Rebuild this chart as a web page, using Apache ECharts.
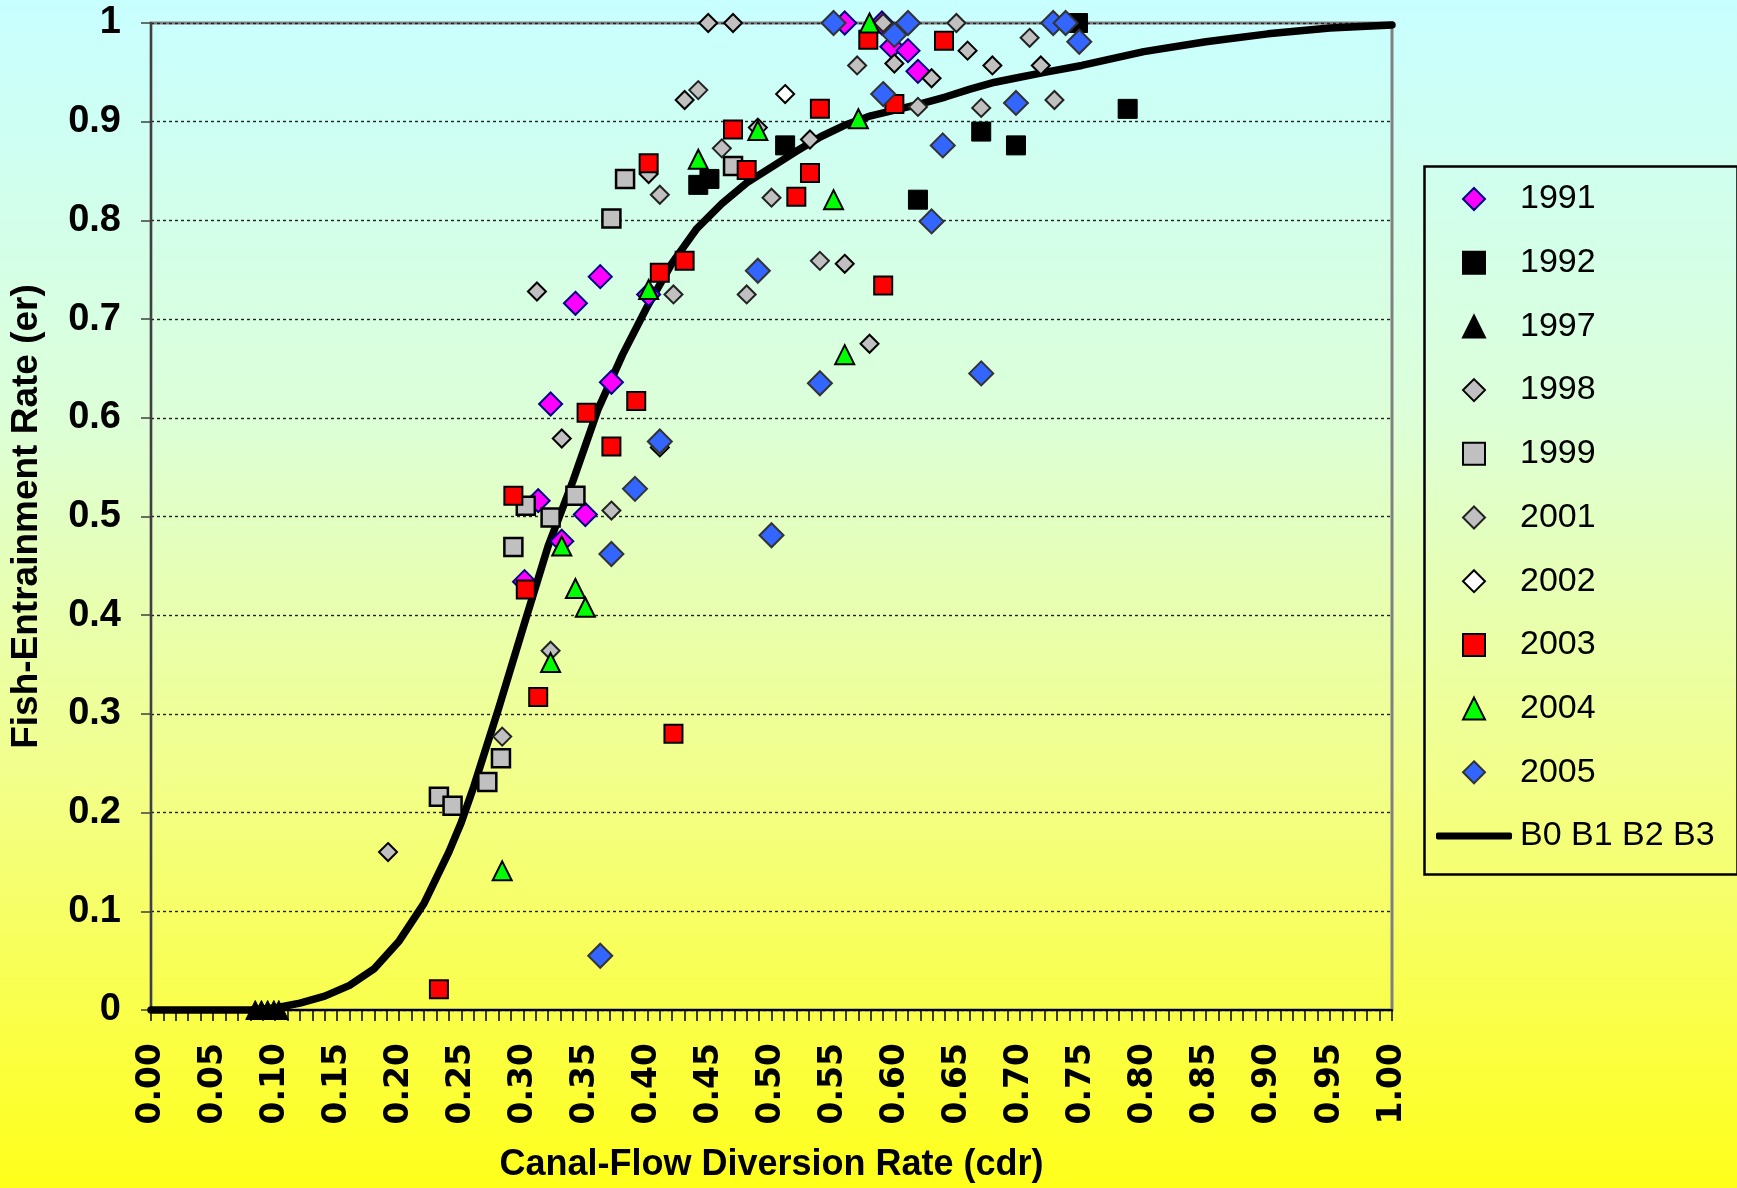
<!DOCTYPE html>
<html>
<head>
<meta charset="utf-8">
<script src="https://cdn.jsdelivr.net/npm/echarts@6/dist/echarts.min.js"></script>
<style>
html,body{margin:0;padding:0;}
#chart{width:1737px;height:1188px;}
</style>
</head>
<body>
<div id="chart"></div>
<script>
// ---- data (x = canal-flow diversion rate, y = fish-entrainment rate) ----
const yearNames = ['1991','1992','1997','1998','1999','2001','2002','2003','2004','2005'];
const fitName = 'B0 B1 B2 B3';

const d1991 = [[0.301,0.434],[0.312,0.516],[0.322,0.614],[0.331,0.475],[0.342,0.716],[0.350,0.502],[0.362,0.743],[0.371,0.636],[0.401,0.725],[0.559,1.0],[0.589,1.0],[0.597,0.976],[0.610,0.972],[0.618,0.951]];
const d1992 = [[0.441,0.836],[0.450,0.842],[0.511,0.876],[0.618,0.821],[0.669,0.890],[0.697,0.876],[0.747,1.0],[0.787,0.913]];
const d1997 = [[0.084,0],[0.089,0],[0.094,0],[0.099,0],[0.103,0]];
const d1998 = [[0.191,0.160],[0.311,0.728],[0.331,0.579],[0.401,0.847],[0.410,0.570],[0.430,0.922],[0.449,1.0],[0.469,1.0],[0.489,0.894],[0.531,0.882],[0.559,0.756],[0.579,0.675],[0.599,0.959],[0.629,0.944],[0.658,0.972],[0.678,0.957],[0.717,0.957]];
const d1999 = [[0.232,0.216],[0.243,0.207],[0.271,0.231],[0.282,0.255],[0.292,0.469],[0.302,0.511],[0.322,0.499],[0.342,0.521],[0.371,0.802],[0.382,0.842],[0.469,0.855]];
const d2001 = [[0.283,0.277],[0.322,0.364],[0.371,0.506],[0.410,0.826],[0.421,0.725],[0.441,0.932],[0.460,0.873],[0.480,0.725],[0.500,0.823],[0.539,0.759],[0.569,0.957],[0.590,1.0],[0.618,0.915],[0.649,1.0],[0.669,0.914],[0.708,0.985],[0.728,0.922]];
const d2002 = [[0.511,0.928]];
const d2003 = [[0.232,0.021],[0.292,0.521],[0.302,0.426],[0.312,0.317],[0.351,0.605],[0.371,0.571],[0.391,0.617],[0.401,0.858],[0.410,0.747],[0.421,0.280],[0.430,0.759],[0.469,0.892],[0.480,0.851],[0.520,0.824],[0.531,0.848],[0.539,0.913],[0.578,0.983],[0.590,0.734],[0.599,0.918],[0.639,0.982]];
const d2004 = [[0.283,0.141],[0.322,0.352],[0.331,0.470],[0.342,0.427],[0.350,0.408],[0.401,0.730],[0.441,0.862],[0.489,0.891],[0.550,0.821],[0.559,0.664],[0.570,0.903],[0.579,1.0]];
const d2005 = [[0.362,0.055],[0.371,0.462],[0.390,0.528],[0.410,0.576],[0.489,0.749],[0.500,0.481],[0.539,0.635],[0.550,1.0],[0.590,0.928],[0.599,0.988],[0.610,1.0],[0.629,0.799],[0.638,0.876],[0.669,0.645],[0.697,0.919],[0.727,1.0],[0.737,1.0],[0.748,0.981]];

const curveX = [0.00,0.02,0.05,0.08,0.10,0.12,0.14,0.16,0.18,0.20,0.22,0.24,0.25,0.26,0.28,0.30,0.32,0.34,0.36,0.38,0.40,0.42,0.44,0.46,0.48,0.50,0.52,0.54,0.56,0.58,0.60,0.62,0.64,0.66,0.68,0.70,0.72,0.75,0.80,0.85,0.90,0.95,1.00];
const curveY = [0,0,0,0,0.002,0.007,0.014,0.025,0.042,0.070,0.108,0.160,0.190,0.226,0.305,0.388,0.470,0.536,0.608,0.664,0.713,0.757,0.792,0.817,0.838,0.854,0.870,0.885,0.897,0.906,0.912,0.918,0.925,0.933,0.940,0.945,0.950,0.957,0.971,0.981,0.989,0.995,0.998];

const yearData = [d1991,d1992,d1997,d1998,d1999,d2001,d2002,d2003,d2004,d2005];

// ---- styles ----
const markerStyles = [
  {symbol:'diamond', size:23, color:'#FF00FF', border:'#000080', bw:2},
  {symbol:'rect', size:19, color:'#000000', border:'#000000', bw:1},
  {symbol:'triangle', size:19, color:'#000000', border:'#000000', bw:1},
  {symbol:'diamond', size:18, color:'#C0C0C0', border:'#000000', bw:2},
  {symbol:'rect', size:18, color:'#C0C0C0', border:'#000000', bw:2.5},
  {symbol:'diamond', size:18, color:'#C0C0C0', border:'#222222', bw:2},
  {symbol:'diamond', size:18, color:'#FFFFFF', border:'#000000', bw:2},
  {symbol:'rect', size:18, color:'#FF0000', border:'#000000', bw:2},
  {symbol:'triangle', size:19, color:'#00FF00', border:'#000000', bw:2},
  {symbol:'diamond', size:24, color:'#3366FF', border:'#333333', bw:2}
];

const series = [];
series.push({
  name: fitName,
  type: 'line',
  data: curveX.map((x,i)=>[x,curveY[i]]),
  symbol: 'none',
  showSymbol: false,
  clip: false,
  z: 1,
  lineStyle: {color:'#000000', width:7.5, cap:'round', join:'round'},
  itemStyle: {color:'#000000'}
});
yearNames.forEach((n,i)=>{
  const m = markerStyles[i];
  series.push({
    name: n,
    type: 'scatter',
    data: yearData[i],
    symbol: m.symbol,
    symbolSize: m.size,
    clip: false,
    z: 2,
    itemStyle: {color:m.color, borderColor:m.border, borderWidth:m.bw, opacity:1}
  });
});

const legendText = {fontFamily:'Liberation Sans', fontSize:34, color:'#000', lineHeight:34};

const chart = echarts.init(document.getElementById('chart'), null, {renderer:'canvas'});
chart.setOption({
  animation: false,
  backgroundColor: {
    type:'linear', x:0, y:0, x2:0, y2:1,
    colorStops:[
      {offset:0, color:'#C8FFFF'},
      {offset:0.35, color:'#DCFFD8'},
      {offset:0.65, color:'#F2FF8C'},
      {offset:1, color:'#FFFF1A'}
    ]
  },
  grid: {left:147, top:23, right:345, bottom:176, show:true, borderColor:'#808080', borderWidth:3, backgroundColor:'transparent'},
  xAxis: {
    type:'value', min:0, max:1, interval:0.05,
    name:'Canal-Flow Diversion Rate (cdr)', nameLocation:'middle', nameGap:137,
    nameTextStyle:{fontFamily:'Liberation Sans', fontWeight:'bold', fontSize:36, color:'#000'},
    axisLine:{show:true, onZero:false, lineStyle:{color:'#000', width:2}},
    axisTick:{show:true, length:11, lineStyle:{color:'#000', width:1.5}},
    minorTick:{show:true, splitNumber:5, length:11, lineStyle:{color:'#000', width:1.5}},
    splitLine:{show:false},
    axisLabel:{rotate:90, margin:33, fontFamily:'DejaVu Sans', fontWeight:'bold', fontSize:33, color:'#000',
      formatter:(v)=>v.toFixed(2)}
  },
  yAxis: {
    type:'value', min:0, max:1, interval:0.1,
    name:'Fish-Entrainment Rate (er)', nameLocation:'middle', nameGap:106,
    nameTextStyle:{fontFamily:'Liberation Sans', fontWeight:'bold', fontSize:37, color:'#000'},
    axisLine:{show:true, onZero:false, lineStyle:{color:'#404040', width:2}},
    axisTick:{show:true, length:10, lineStyle:{color:'#404040', width:1.5}},
    splitLine:{show:true, lineStyle:{color:'#222222', width:1.4, type:[3,3]}},
    axisLabel:{margin:30, fontFamily:'Liberation Sans', fontWeight:'bold', fontSize:38, color:'#000'}
  },
  legend: [{
    orient:'vertical', left:1462, top:182, padding:0,
    itemWidth:22, itemHeight:22, itemGap:29.7,
    data: yearNames,
    textStyle: Object.assign({padding:[0,0,0,30]}, legendText),
    selectedMode:false
  },{
    orient:'vertical', left:1436, top:819, padding:0,
    itemWidth:76, itemHeight:7,
    data: [{name:fitName, icon:'roundRect'}],
    textStyle: Object.assign({padding:[0,0,0,3]}, legendText),
    selectedMode:false
  }],
  graphic: [{
    type:'rect', left:1422, top:164, z:0, silent:true,
    shape:{width:313, height:708},
    style:{fill:'none', stroke:'#000', lineWidth:2.5}
  }],
  series: series
});
</script>
</body>
</html>
